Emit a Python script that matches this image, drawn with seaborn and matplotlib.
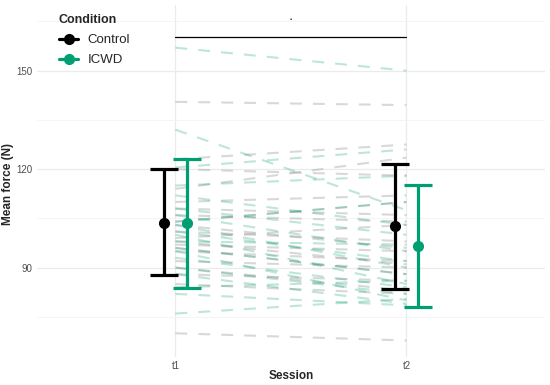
import numpy as np
import pandas as pd
import matplotlib
matplotlib.use("Agg")
import matplotlib.pyplot as plt
import seaborn as sns
from matplotlib.lines import Line2D

# individual participants (t1 -> t2)
control_t1 = [140.5, 123, 114, 120, 110, 108, 106, 104, 103, 101, 99, 98, 97, 96, 95, 92, 90, 88, 85, 70]
control_t2 = [139.5, 127.5, 123.5, 118, 112, 106, 104, 110, 96, 98, 103, 91, 95, 88, 92, 90, 83, 86, 82, 67.8]
icwd_t1 = [157, 132, 120.5, 115, 112, 108, 106, 104, 103, 101, 100, 98, 96, 95, 93, 90, 88, 84, 82, 76]
icwd_t2 = [150, 107.5, 126, 118, 103, 100, 95, 110, 90, 92, 85, 97, 88, 80, 84, 82, 79, 86, 78.5, 80.5]

# group summaries (mean, lower, upper) per session
sessions = ["t1", "t2"]
control_mean = [103.7, 102.7]
control_lo = [87.8, 83.6]
control_hi = [119.9, 121.7]
icwd_mean = [103.5, 96.7]
icwd_lo = [83.9, 77.9]
icwd_hi = [123.0, 115.2]

sig_y = 160.2
star_y = 165.5

green = "#009E73"

rows = []
for cond, a, b in [("Control", control_t1, control_t2), ("ICWD", icwd_t1, icwd_t2)]:
    for i, (v1, v2) in enumerate(zip(a, b)):
        rows.append((cond, f"{cond}{i}", 1, v1))
        rows.append((cond, f"{cond}{i}", 2, v2))
df = pd.DataFrame(rows, columns=["Condition", "id", "session", "force"])

sns.set_theme(style="whitegrid")
plt.rcParams["font.family"] = ["Liberation Sans", "DejaVu Sans"]

fig, ax = plt.subplots(figsize=(5.5, 3.85), dpi=100)
fig.subplots_adjust(left=0.067, right=0.991, top=0.987, bottom=0.073)

sns.lineplot(data=df[df.Condition == "Control"], x="session", y="force", units="id",
             estimator=None, color="#9a9a9a", alpha=0.38, lw=1.5,
             linestyle=(0, (5.7, 5.3)), ax=ax, legend=False)
sns.lineplot(data=df[df.Condition == "ICWD"], x="session", y="force", units="id",
             estimator=None, color=green, alpha=0.26, lw=1.5,
             linestyle=(0, (5.7, 5.3)), ax=ax, legend=False)

x = np.array([1, 2])
dodge = 0.05
for mean, lo, hi, col, off in [(control_mean, control_lo, control_hi, "black", -dodge),
                               (icwd_mean, icwd_lo, icwd_hi, green, dodge)]:
    mean = np.array(mean)
    yerr = [mean - np.array(lo), np.array(hi) - mean]
    ax.errorbar(x + off, mean, yerr=yerr, fmt="o", color=col, ms=7, elinewidth=2.3,
                capsize=10, capthick=2.3, zorder=5)

ax.plot([1, 2], [sig_y, sig_y], color="black", lw=0.9)
ax.text(1.5, star_y, "•", ha="center", va="center", fontsize=4.5)

ax.set_xlim(0.4, 2.6)
ax.set_ylim(62.8, 170)
ax.set_xticks(x)
ax.set_xticklabels(sessions)
ax.set_yticks([90, 120, 150])
ax.set_yticks([75, 105, 135, 165], minor=True)
ax.grid(True, which="major", color="#EBEBEB", lw=0.9)
ax.grid(True, which="minor", axis="y", color="#F2F2F2", lw=0.6)
ax.tick_params(axis="both", which="both", length=0, labelsize=7, labelcolor="#4D4D4D", pad=3)
for s in ax.spines.values():
    s.set_visible(False)
ax.set_xlabel("Session", fontsize=8.5, fontweight="bold")
ax.set_ylabel("Mean force (N)", fontsize=8.5, fontweight="bold")
ax.xaxis.set_label_coords(0.5, -0.036)
ax.yaxis.set_label_coords(-0.045, 0.49)

handles = [Line2D([], [], color="black", marker="o", ms=7, lw=2.3),
           Line2D([], [], color=green, marker="o", ms=7, lw=2.3)]
leg = ax.legend(handles, ["Control", "ICWD"], title="Condition", loc="upper left",
                bbox_to_anchor=(0.097, 0.978), bbox_transform=fig.transFigure,
                frameon=False, fontsize=9.5, title_fontsize=9, handlelength=1.5,
                handletextpad=0.7, labelspacing=0.6, borderaxespad=0)
leg.get_title().set_fontweight("bold")
leg._legend_box.align = "left"
leg._legend_box.sep = 6

fig.savefig("out.png", dpi=100)
